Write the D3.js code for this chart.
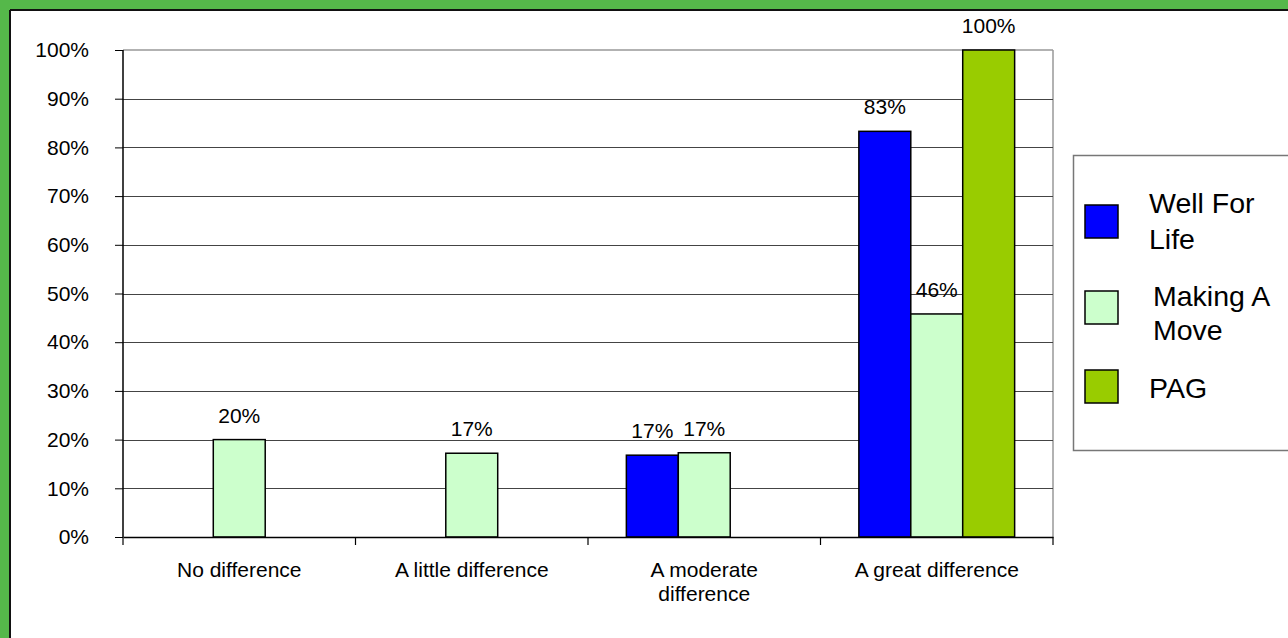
<!DOCTYPE html>
<html>
<head>
<meta charset="utf-8">
<script src="https://cdn.jsdelivr.net/npm/d3@7"></script>
<style>
  body { margin: 0; background: #fff; }
  svg { display: block; font-family: "Liberation Sans", Arial, sans-serif; }
</style>
</head>
<body>
<div id="chart"></div>
<script>
var width = 1288;
var height = 638;

// data
var categories = ["No difference", "A little difference", "A moderate difference", "A great difference"];
var categoryLines = [["No difference"], ["A little difference"], ["A moderate", "difference"], ["A great difference"]];
var seriesNames = ["Well For Life", "Making A Move", "PAG"];
var legendLines = [["Well For", "Life"], ["Making A", "Move"], ["PAG"]];
var wellForLife = [null, null, 16.8, 83.3];
var makingAMove = [20, 17.2, 17.3, 45.8];
var pag = [null, null, null, 100];
var yTicks = [0, 10, 20, 30, 40, 50, 60, 70, 80, 90, 100];
var colors = ["#0000ff", "#ccffcc", "#99cc00"];

var seriesValues = [wellForLife, makingAMove, pag];

var margin = {left: 123, right: 235, top: 50, bottom: 101};
var fontSize = "21px";

var svg = d3.select("#chart").append("svg")
      .attr("width", width)
      .attr("height", height);

// green frame (top and left only)
svg.append("rect").attr("x", 0).attr("y", 0).attr("width", width).attr("height", 10).attr("fill", "#55b84a");
svg.append("rect").attr("x", 0).attr("y", 0).attr("width", 10).attr("height", height).attr("fill", "#55b84a");
svg.append("rect").attr("x", 10).attr("y", 9).attr("width", width - 10).attr("height", 2).attr("fill", "#111");
svg.append("rect").attr("x", 9).attr("y", 10).attr("width", 2).attr("height", height - 10).attr("fill", "#111");

var x0 = d3.scaleBand()
      .domain(categories)
      .range([margin.left, width - margin.right])
      .padding(0);

var bw = x0.bandwidth();
var x1 = d3.scaleBand()
      .domain(seriesNames)
      .range([bw * 0.165, bw * 0.835])
      .padding(0);

var y = d3.scaleLinear()
      .domain([0, 100])
      .range([height - margin.bottom, margin.top]);

var plotRight = width - margin.right;

// plot border (top/right gray)
svg.append("line")
      .attr("x1", margin.left).attr("x2", plotRight)
      .attr("y1", y(100)).attr("y2", y(100))
      .attr("stroke", "#999").attr("stroke-width", 1.5);
svg.append("line")
      .attr("x1", plotRight).attr("x2", plotRight)
      .attr("y1", y(100)).attr("y2", y(0))
      .attr("stroke", "#999").attr("stroke-width", 1.5);

// gridlines
svg.append("g")
      .selectAll("line")
      .data(yTicks.filter(d => d > 0 && d < 100))
      .enter().append("line")
      .attr("x1", margin.left).attr("x2", plotRight)
      .attr("y1", d => Math.round(y(d)) + 0.5).attr("y2", d => Math.round(y(d)) + 0.5)
      .attr("stroke", "#444").attr("stroke-width", 1);

// y axis
var yAxis = d3.axisLeft(y)
      .tickValues(yTicks)
      .tickSize(8)
      .tickPadding(26)
      .tickFormat(d => d + "%");

var yAxisGroup = svg.append("g")
      .attr("transform", "translate(" + margin.left + ",0)")
      .call(yAxis);
yAxisGroup.selectAll("text").style("font-size", fontSize).attr("fill", "#000")
      .attr("font-family", "Liberation Sans, Arial, sans-serif");
yAxisGroup.selectAll("line").attr("stroke", "#000");
yAxisGroup.select(".domain").remove();

// bars
categories.forEach(function(cat, ci) {
  var g = svg.append("g").attr("transform", "translate(" + x0(cat) + ",0)");
  seriesNames.forEach(function(s, si) {
    var v = seriesValues[si][ci];
    if (v == null) return;
    g.append("rect")
          .attr("x", x1(s))
          .attr("y", y(v))
          .attr("width", x1.bandwidth())
          .attr("height", y(0) - y(v))
          .attr("fill", colors[si])
          .attr("stroke", "#000")
          .attr("stroke-width", 1.5);
    g.append("text")
          .attr("x", x1(s) + x1.bandwidth() / 2)
          .attr("y", y(v) - 17)
          .attr("text-anchor", "middle")
          .style("font-size", fontSize)
          .text(Math.round(v) + "%");
  });
});

// axis lines
svg.append("line")
      .attr("x1", margin.left).attr("x2", margin.left)
      .attr("y1", y(100)).attr("y2", y(0))
      .attr("stroke", "#000").attr("stroke-width", 1.5);

var xAxis = d3.axisBottom(x0).tickSize(0).tickFormat("");
var xAxisGroup = svg.append("g")
      .attr("transform", "translate(0," + y(0) + ")")
      .call(xAxis);
xAxisGroup.select(".domain").attr("stroke", "#000").attr("stroke-width", 1.5);

// category boundary ticks
var bounds = categories.map(c => x0(c)).concat([plotRight]);
svg.append("g").selectAll("line")
      .data(bounds)
      .enter().append("line")
      .attr("x1", d => d).attr("x2", d => d)
      .attr("y1", y(0)).attr("y2", y(0) + 8)
      .attr("stroke", "#000").attr("stroke-width", 1.2);

// category labels
categories.forEach(function(cat, ci) {
  var t = svg.append("text")
        .attr("x", x0(cat) + bw / 2)
        .attr("y", 577)
        .attr("text-anchor", "middle")
        .style("font-size", fontSize);
  categoryLines[ci].forEach(function(line, li) {
    t.append("tspan")
          .attr("x", x0(cat) + bw / 2)
          .attr("dy", li == 0 ? 0 : 24)
          .text(line);
  });
});

// legend
var legend = svg.append("g");
legend.append("rect")
      .attr("x", 1073.5).attr("y", 155.5)
      .attr("width", 230).attr("height", 295)
      .attr("fill", "#fff")
      .attr("stroke", "#777").attr("stroke-width", 1.5);

var swatchY = [205, 291, 370];
var textX = [1149, 1153, 1149];
var textDy = [8, 15, 28];
var lineGap = [36, 34, 0];
seriesNames.forEach(function(s, si) {
  legend.append("rect")
        .attr("x", 1085).attr("y", swatchY[si])
        .attr("width", 33).attr("height", 33)
        .attr("fill", colors[si])
        .attr("stroke", "#000").attr("stroke-width", 1.5);
  var lines = legendLines[si];
  var t = legend.append("text")
        .style("font-size", "28.5px")
        .attr("y", swatchY[si] + textDy[si]);
  lines.forEach(function(line, li) {
    t.append("tspan")
          .attr("x", textX[si])
          .attr("dy", li == 0 ? 0 : lineGap[si])
          .text(line);
  });
});
</script>
</body>
</html>
